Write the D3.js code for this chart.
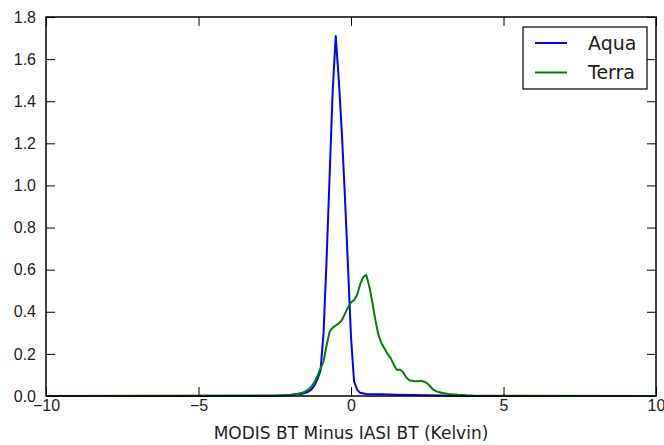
<!DOCTYPE html>
<html>
<head>
<meta charset="utf-8">
<script src="https://cdn.jsdelivr.net/npm/d3@7"></script>
<style>
  body { margin: 0; background: #fff; }
  svg { display: block; font-family: "DejaVu Sans", sans-serif; }
</style>
</head>
<body>
<svg id="chart"></svg>
<script>
// Series: x (Kelvin) and density values
const aquaX = [-10, -2.5, -2.0, -1.8, -1.6, -1.5, -1.4, -1.3, -1.2, -1.1, -1.0, -0.9, -0.8, -0.7, -0.6, -0.5,
  -0.4, -0.3, -0.2, -0.1, 0.0, 0.1, 0.2, 0.3, 0.5, 1.0, 1.5, 2.0, 2.5, 3.0, 3.5, 10];
const aquaY = [0, 0, 0.005, 0.01, 0.01, 0.015, 0.02, 0.03, 0.05, 0.08, 0.12, 0.3, 0.65, 1.05, 1.45, 1.71,
  1.5, 1.25, 0.95, 0.62, 0.28, 0.07, 0.03, 0.015, 0.01, 0.008, 0.006, 0.005, 0.003, 0.002, 0, 0];

const terraX = [-10, -2.5, -2.0, -1.8, -1.6, -1.5, -1.4, -1.3, -1.2, -1.1, -1.0, -0.9, -0.8, -0.7, -0.6, -0.5,
  -0.4, -0.3, -0.2, -0.1, 0.0, 0.1, 0.2, 0.3, 0.4, 0.5, 0.6, 0.7, 0.8, 0.9, 1.0, 1.1, 1.2, 1.3, 1.4, 1.5,
  1.6, 1.7, 1.8, 1.9, 2.0, 2.1, 2.2, 2.3, 2.4, 2.5, 2.6, 2.7, 2.8, 2.9, 3.0, 3.2, 3.5, 3.8, 4.0, 10];
const terraY = [0, 0.002, 0.005, 0.008, 0.015, 0.022, 0.03, 0.045, 0.065, 0.095, 0.13, 0.165, 0.24, 0.305, 0.325, 0.335,
  0.345, 0.36, 0.39, 0.42, 0.445, 0.455, 0.48, 0.53, 0.565, 0.575, 0.52, 0.445, 0.36, 0.29, 0.25, 0.225, 0.2, 0.18, 0.15, 0.125,
  0.125, 0.115, 0.09, 0.076, 0.072, 0.07, 0.07, 0.072, 0.068, 0.06, 0.045, 0.03, 0.022, 0.018, 0.014, 0.01, 0.006, 0.003, 0.002, 0];

const seriesNames = ["Aqua", "Terra"];
const seriesColors = ["#0000ff", "#008000"];
const xTicks = [-10, -5, 0, 5, 10];
const yTicks = [0, 0.2, 0.4, 0.6, 0.8, 1.0, 1.2, 1.4, 1.6, 1.8];
const xLabel = "MODIS BT Minus IASI BT (Kelvin)";

const W = 664, H = 445;
const margin = { top: 17, right: 8, bottom: 49, left: 46 };
const width = W - margin.left - margin.right;
const height = H - margin.top - margin.bottom;

const svg = d3.select("#chart").attr("width", W).attr("height", H);
const g = svg.append("g").attr("transform", `translate(${margin.left},${margin.top})`);

const xScale = d3.scaleLinear().domain([-10, 10]).range([0, width]);
const yScale = d3.scaleLinear().domain([0, 1.8]).range([height, 0]);

const fmtX = d => d < 0 ? "\u2212" + Math.abs(d) : String(d);
const tickLen = 9;

// Lines
const line = d3.line().x(d => xScale(d[0])).y(d => yScale(d[1]));
const series = [d3.zip(aquaX, aquaY), d3.zip(terraX, terraY)];
g.selectAll(".series")
  .data(series)
  .enter()
  .append("path")
  .attr("class", "series")
  .attr("d", line)
  .attr("fill", "none")
  .attr("stroke", (d, i) => seriesColors[i])
  .attr("stroke-width", 2)
  .attr("stroke-linejoin", "round");

// Axes, ticks pointing inward on all four sides
function styleAxis(sel) {
  sel.select(".domain").remove();
  sel.selectAll(".tick line").attr("stroke", "#000").attr("stroke-width", 1);
  sel.selectAll(".tick text").attr("fill", "#222").style("font-size", "16px");
}

g.append("g")
  .attr("transform", `translate(0,${height})`)
  .call(d3.axisBottom(xScale).tickValues(xTicks).tickFormat(fmtX).tickSizeInner(-tickLen).tickSizeOuter(0).tickPadding(4))
  .call(styleAxis);

g.append("g")
  .call(d3.axisTop(xScale).tickValues(xTicks).tickFormat("").tickSizeInner(-tickLen).tickSizeOuter(0))
  .call(styleAxis);

g.append("g")
  .call(d3.axisLeft(yScale).tickValues(yTicks).tickFormat(d3.format(".1f")).tickSizeInner(-tickLen).tickSizeOuter(0).tickPadding(10))
  .call(styleAxis);

g.append("g")
  .attr("transform", `translate(${width},0)`)
  .call(d3.axisRight(yScale).tickValues(yTicks).tickFormat("").tickSizeInner(-tickLen).tickSizeOuter(0))
  .call(styleAxis);

// Frame
g.append("rect")
  .attr("width", width)
  .attr("height", height)
  .attr("fill", "none")
  .attr("stroke", "#000")
  .attr("stroke-width", 1.5);

// X axis label
g.append("text")
  .attr("x", width / 2)
  .attr("y", height + 43)
  .attr("text-anchor", "middle")
  .attr("fill", "#222")
  .style("font-size", "17px")
  .text(xLabel);

// Legend
const legend = g.append("g").attr("transform", `translate(${width - 133},10)`);
legend.append("rect")
  .attr("width", 124)
  .attr("height", 62)
  .attr("fill", "#fff")
  .attr("stroke", "#000")
  .attr("stroke-width", 1.2);

const items = legend.selectAll(".legend-item")
  .data(seriesNames)
  .enter()
  .append("g")
  .attr("class", "legend-item")
  .attr("transform", (d, i) => `translate(0,${16 + i * 29.5})`);

items.append("line")
  .attr("x1", 12).attr("x2", 44)
  .attr("stroke", (d, i) => seriesColors[i])
  .attr("stroke-width", 2);

items.append("text")
  .attr("x", 65)
  .attr("dy", "0.35em")
  .attr("fill", "#222")
  .style("font-size", "19px")
  .text(d => d);
</script>
</body>
</html>
